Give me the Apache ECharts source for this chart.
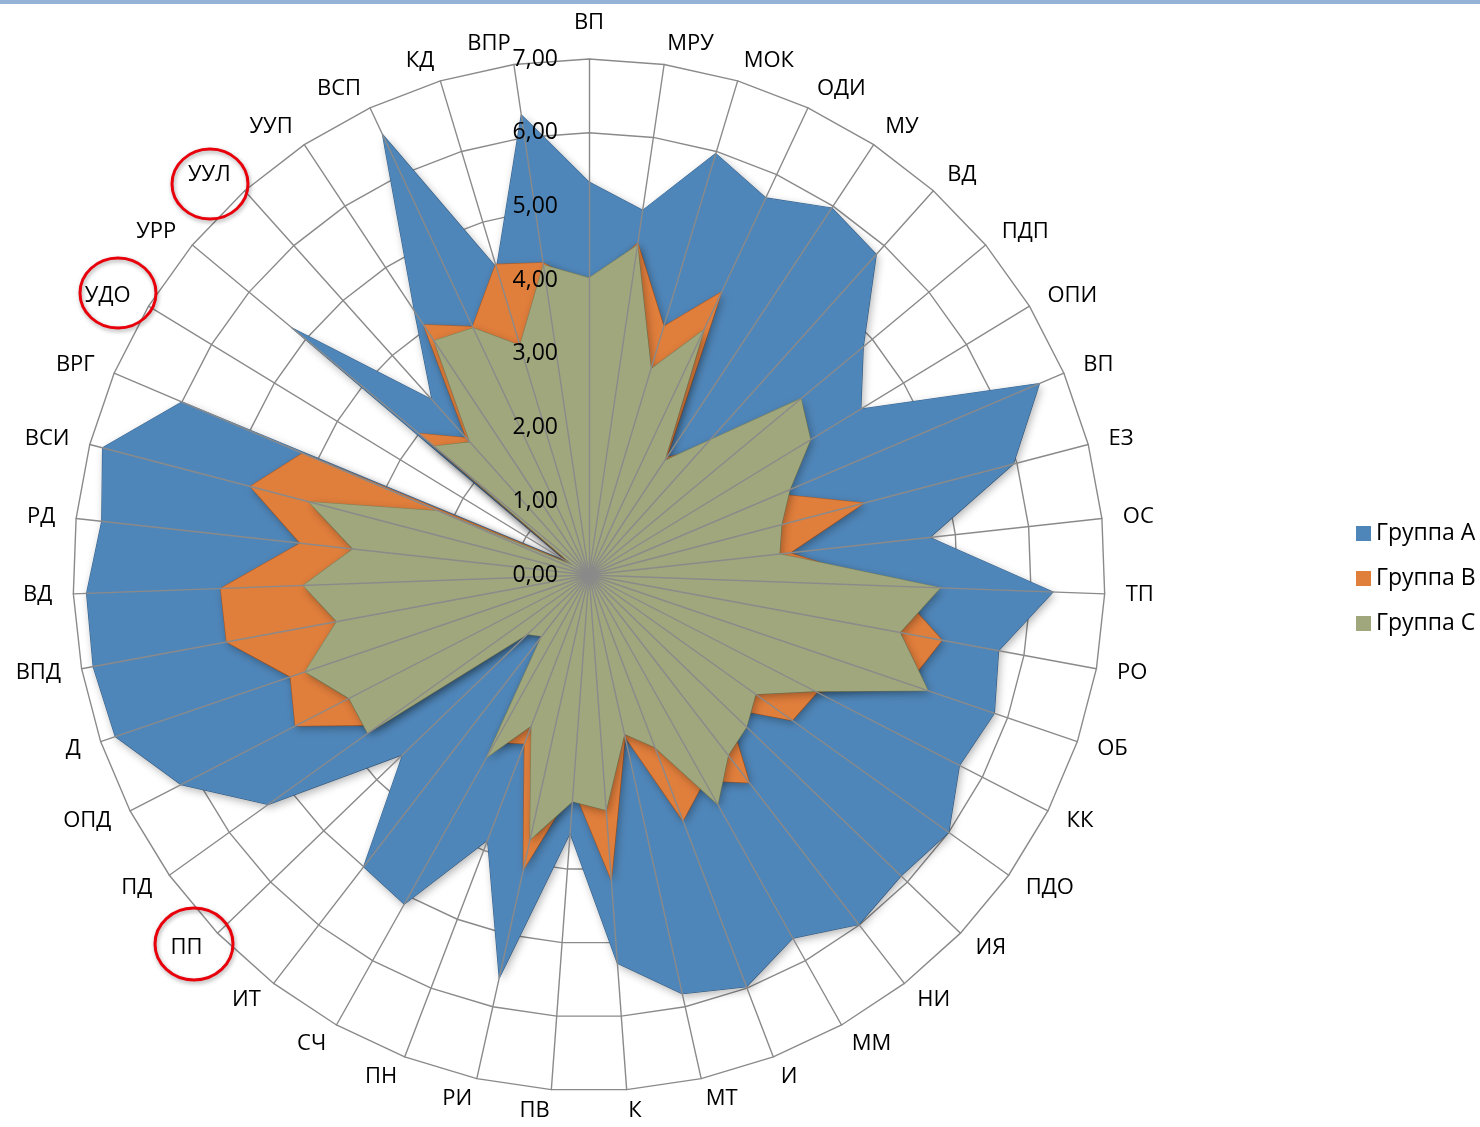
<!DOCTYPE html>
<html>
<head>
<meta charset="utf-8">
<script src="https://cdn.jsdelivr.net/npm/echarts@6/dist/echarts.min.js"></script>
<style>
html, body { margin: 0; padding: 0; background: #ffffff; }
#chart { width: 1480px; height: 1127px; }
</style>
</head>
<body>
<div id="chart"></div>
<script>
// ---- data (clockwise from the top) ----
const categories = ['ВП','МРУ','МОК','ОДИ','МУ','ВД','ПДП','ОПИ','ВП','ЕЗ','ОС','ТП','РО','ОБ','КК','ПДО','ИЯ','НИ','ММ','И','МТ','К','ПВ','РИ','ПН','СЧ','ИТ','ПП','ПД','ОПД','Д','ВПД','ВД','РД','ВСИ','ВРГ','УДО','УРР','УУЛ','УУП','ВСП','КД','ВПР'];
const groupA = [5.33,5.00,5.97,5.65,5.97,5.84,4.84,4.32,6.64,5.95,4.65,6.30,5.65,5.81,5.65,6.00,5.88,5.99,5.65,5.98,5.82,5.28,3.51,5.60,3.85,5.12,5.00,3.51,5.35,6.22,6.79,6.84,6.82,6.65,6.82,6.00,0.35,5.24,3.19,4.29,6.60,4.35,6.31];
const groupB = [3.90,4.55,3.52,4.24,1.91,2.30,3.30,3.10,2.80,3.86,2.74,4.13,4.87,4.57,3.48,3.39,2.60,3.56,3.20,3.57,2.25,4.15,2.90,4.10,2.45,2.60,1.00,1.10,3.50,4.48,4.28,5.00,5.00,3.94,4.75,4.22,0.30,3.00,2.50,4.07,3.72,4.40,4.28];
const groupC = [4.03,4.52,2.92,3.67,1.86,2.46,3.74,3.52,2.96,2.70,2.60,4.77,4.29,4.86,3.45,2.78,2.97,3.09,3.57,2.50,2.21,3.20,3.08,3.68,2.19,2.84,1.05,1.16,3.69,3.66,4.07,3.48,3.88,3.22,3.93,2.22,0.25,2.73,2.42,3.81,3.70,3.25,4.25];
const seriesNames = ['Группа А', 'Группа В', 'Группа С'];
const tickLabels = ['0,00','1,00','2,00','3,00','4,00','5,00','6,00','7,00'];
const axisMax = 7;

// ECharts lays radar indicators out counter-clockwise: reverse to read clockwise
const order = categories.map((_, i) => (i === 0 ? 0 : categories.length - i));
const reorder = arr => order.map(i => arr[i]);

const FONT = '"Open Sans", "Noto Sans", sans-serif';
const CENTER = [589, 575];
const RADIUS = 516;
const GRID = '#8a8a8a';

const namedIndicators = reorder(categories).map((name, k) => (
  k === 0 ? { name, min: 0, max: axisMax, nameGap: 25 } : { name, min: 0, max: axisMax }
));
const spokeIndicators = reorder(categories).map((name, k) => (
  k === 0 ? { name, min: 0, max: axisMax, axisLabel: { show: true } } : { name, min: 0, max: axisMax }
));

const colors = [
  { fill: '#4F86B9', line: '#3F6E9C' },
  { fill: '#E07E3C', line: '#BA6228' },
  { fill: '#A0A77D', line: '#858B63' }
];
const values = [groupA, groupB, groupC];

const chart = echarts.init(document.getElementById('chart'), null, { renderer: 'canvas' });
chart.setOption({
  animation: false,
  backgroundColor: '#ffffff',
  textStyle: { fontFamily: FONT },
  legend: {
    orient: 'vertical',
    left: 1351,
    top: 517,
    itemWidth: 15,
    itemHeight: 15,
    itemGap: 22,
    icon: 'rect',
    data: seriesNames,
    textStyle: { fontSize: 23, fontFamily: FONT, color: '#000' }
  },
  radar: [
    {
      z: 0,
      center: CENTER,
      radius: RADIUS,
      startAngle: 90,
      shape: 'polygon',
      splitNumber: 7,
      axisNameGap: 21,
      indicator: namedIndicators,
      axisName: { color: '#000', fontSize: 22, fontFamily: FONT },
      axisLine: { show: false },
      axisTick: { show: false },
      axisLabel: { show: false },
      splitLine: { show: true, lineStyle: { color: GRID, width: 1.4 } },
      splitArea: { show: false }
    },
    {
      z: 5,
      center: CENTER,
      radius: RADIUS,
      startAngle: 90,
      shape: 'polygon',
      splitNumber: 7,
      indicator: spokeIndicators,
      axisName: { show: false },
      axisLine: { show: true, lineStyle: { color: GRID, width: 1.4 } },
      axisTick: { show: false },
      axisLabel: {
        show: false,
        margin: 31,
        fontSize: 23,
        fontFamily: FONT,
        color: '#000',
        formatter: v => tickLabels[Math.round(v)]
      },
      splitLine: { show: false },
      splitArea: { show: false }
    }
  ],
  series: seriesNames.map((name, s) => ({
    type: 'radar',
    name,
    radarIndex: 0,
    z: 2,
    symbol: 'none',
    itemStyle: { color: colors[s].fill },
    lineStyle: { color: colors[s].line, width: 1.2 },
    areaStyle: {
      color: colors[s].fill,
      opacity: 1,
      shadowBlur: 8,
      shadowColor: 'rgba(0,0,0,0.3)',
      shadowOffsetX: 2,
      shadowOffsetY: 3
    },
    data: [{ name, value: reorder(values[s]) }]
  })),
  graphic: [
    { type: 'rect', left: 0, top: 0, shape: { width: 1480, height: 4 }, style: { fill: '#95B3D7' }, z: 10 },
    { type: 'ellipse', shape: { cx: 210, cy: 184, rx: 38, ry: 35 }, style: { fill: 'none', stroke: '#E8000B', lineWidth: 3, shadowBlur: 4, shadowColor: 'rgba(0,0,0,0.35)', shadowOffsetX: 1, shadowOffsetY: 2 }, z: 10 },
    { type: 'ellipse', shape: { cx: 118, cy: 293, rx: 38, ry: 35 }, style: { fill: 'none', stroke: '#E8000B', lineWidth: 3, shadowBlur: 4, shadowColor: 'rgba(0,0,0,0.35)', shadowOffsetX: 1, shadowOffsetY: 2 }, z: 10 },
    { type: 'ellipse', shape: { cx: 194, cy: 944, rx: 39, ry: 36 }, style: { fill: 'none', stroke: '#E8000B', lineWidth: 3, shadowBlur: 4, shadowColor: 'rgba(0,0,0,0.35)', shadowOffsetX: 1, shadowOffsetY: 2 }, z: 10 }
  ]
});
</script>
</body>
</html>
